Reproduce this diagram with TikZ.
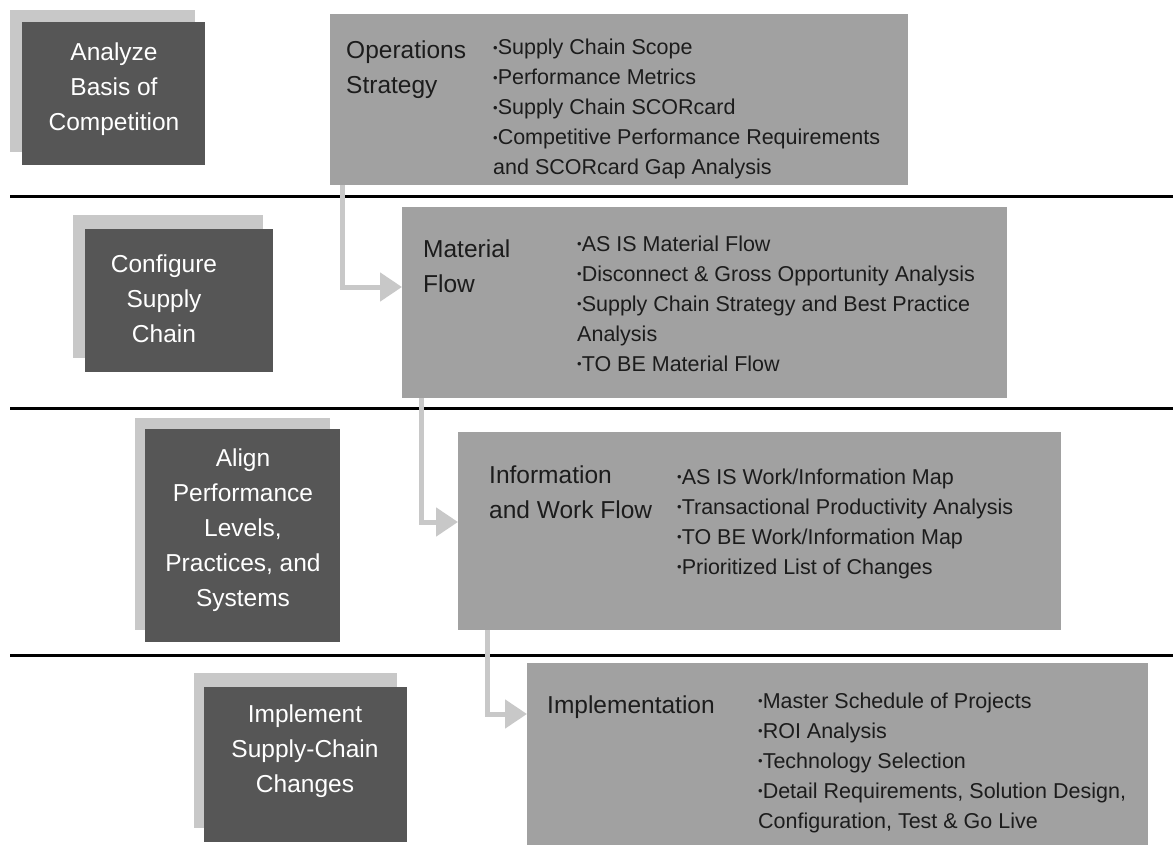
\documentclass[tikz,border=0pt]{standalone}
\usepackage{fontspec}
\setmainfont{Liberation Sans}
\usetikzlibrary{arrows.meta}
\definecolor{stepdark}{HTML}{565656}
\definecolor{stepback}{HTML}{C8C8C8}
\definecolor{panelgray}{HTML}{A1A1A1}
\definecolor{flowgray}{HTML}{C8C8C8}
\definecolor{inkdark}{HTML}{1C1C1C}
% small bullet used in the activity lists
\newcommand\bul{\raisebox{2.5pt}{\fontsize{13pt}{13pt}\selectfont •}}
\begin{document}
\begin{tikzpicture}[x=1pt,y=-1pt,
  blk/.style 2 args={rectangle, inner sep=0pt, outer sep=0pt, anchor=north west,
    minimum width=#1pt, minimum height=#2pt},
  backbox/.style={fill=stepback, draw=none},
  stepbox/.style={fill=stepdark, draw=none},
  panel/.style={fill=panelgray, draw=none},
  steptext/.style={text=white, align=center, anchor=base, inner sep=0pt,
    font=\fontsize{24.5pt}{35pt}\selectfont},
  headtext/.style={text=inkdark, align=left, anchor=base west, inner sep=0pt,
    font=\fontsize{24.5pt}{35pt}\selectfont},
  listtext/.style={text=inkdark, align=left, anchor=base west, inner sep=0pt,
    font=\fontsize{21.5pt}{30pt}\selectfont},
  sepline/.style={line width=3pt, draw=black},
  conn/.style={line width=5pt, draw=flowgray,
    -{Triangle[length=22pt,width=28pt]}}]
\useasboundingbox (0,0) rectangle (1173,845);

% separators between the four phases
\draw[sepline] (10,197) -- (1173,197);
\draw[sepline] (10,408) -- (1173,408);
\draw[sepline] (10,655) -- (1173,655);

% (text nodes are placed by the baseline of their last line)

% phase 1
\node[blk={185}{142}, backbox] (s1) at (10,10) {};
\node[blk={183}{143}, stepbox] (d1) at (22,22) {};
\node[steptext] (t1) at (114,131) {Analyze\\Basis of\\Competition};
\node[blk={578}{171}, panel] (ops) at (330,14) {};
\node[headtext] (h1) at (346,94) {Operations\\Strategy};
\node[listtext] (l1) at (493,175) {\bul Supply Chain Scope\\\bul Performance Metrics\\\bul Supply Chain SCORcard\\\bul Competitive Performance Requirements\\and SCORcard Gap Analysis};

% phase 2
\node[blk={190}{143}, backbox] (s2) at (73,215) {};
\node[blk={188}{143}, stepbox] (d2) at (85,229) {};
\node[steptext] (t2) at (164,342) {Configure\\Supply\\Chain};
\node[blk={605}{191}, panel] (mat) at (402,207) {};
\node[headtext] (h2) at (423,292) {Material\\Flow};
\node[listtext] (l2) at (577,371) {\bul AS IS Material Flow\\\bul Disconnect \& Gross Opportunity Analysis\\\bul Supply Chain Strategy and Best Practice\\Analysis\\\bul TO BE Material Flow};

% phase 3
\node[blk={195}{212}, backbox] (s3) at (135,418) {};
\node[blk={195}{213}, stepbox] (d3) at (145,429) {};
\node[steptext] (t3) at (243,606) {Align\\Performance\\Levels,\\Practices, and\\Systems};
\node[blk={603}{198}, panel] (info) at (458,432) {};
\node[headtext] (h3) at (489,518) {Information\\and Work Flow};
\node[listtext] (l3) at (677,574) {\bul AS IS Work/Information Map\\\bul Transactional Productivity Analysis\\\bul TO BE Work/Information Map\\\bul Prioritized List of Changes};

% phase 4
\node[blk={203}{155}, backbox] (s4) at (194,673) {};
\node[blk={203}{155}, stepbox] (d4) at (204,687) {};
\node[steptext] (t4) at (305,792) {Implement\\Supply-Chain\\Changes};
\node[blk={621}{182}, panel] (impl) at (527,663) {};
\node[headtext] (h4) at (547,713) {Implementation};
\node[listtext] (l4) at (758,828) {\bul Master Schedule of Projects\\\bul ROI Analysis\\\bul Technology Selection\\\bul Detail Requirements, Solution Design,\\Configuration, Test \& Go Live};

% flow from each panel to the next
\draw[conn] ([xshift=12pt]ops.south west) |- ([yshift=15.5pt]mat.west);
\draw[conn] ([xshift=19pt]mat.south west) |- ([yshift=9pt]info.west);
\draw[conn] ([xshift=29pt]info.south west) |- ([yshift=40pt]impl.west);
\end{tikzpicture}
\end{document}
